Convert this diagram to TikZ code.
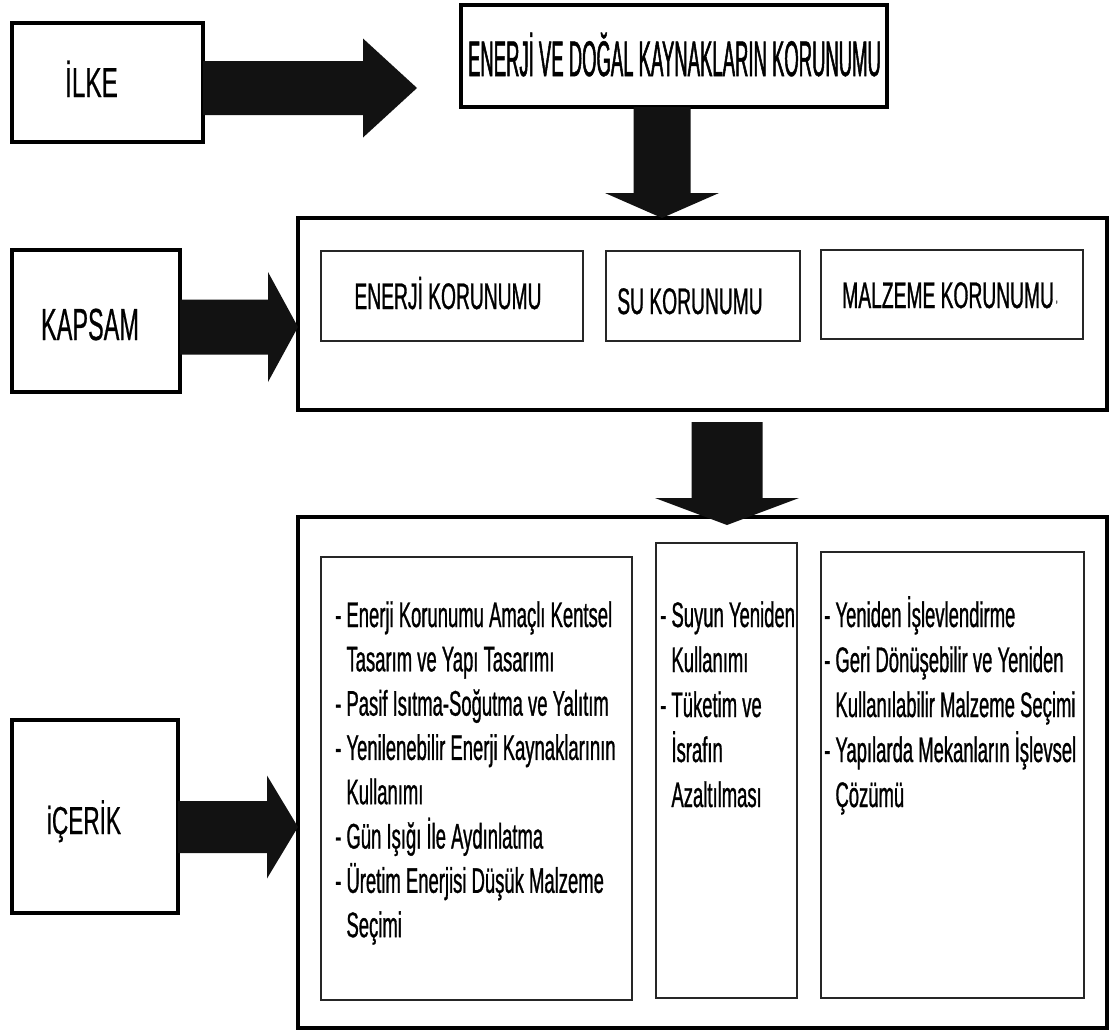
\documentclass[tikz,border=0pt]{standalone}
\usepackage{fontspec}
\setmainfont{Liberation Sans}
\newfontfamily\fhead{Liberation Sans}[FakeStretch=0.37,FakeBold=1.0]
\newfontfamily\flab{Liberation Sans}[FakeStretch=0.58,FakeBold=0.5]
\newfontfamily\fsub{Liberation Sans}[FakeStretch=0.52,FakeBold=0.8]
\newfontfamily\fbody{Liberation Sans}[FakeStretch=0.52,FakeBold=0.8]
\usetikzlibrary{calc}
\newcommand\harrow[5]{%
  \fill[arrowfill] let \p1=(#1), \p2=(#2) in
    (\x1,\y2+#3) -- (\x2-#5,\y2+#3) -- (\x2-#5,\y2+#4) -- (\x2,\y2) --
    (\x2-#5,\y2-#4) -- (\x2-#5,\y2-#3) -- (\x1,\y2-#3) -- cycle;}
\newcommand\varrow[5]{%
  \fill[arrowfill] let \p1=(#1), \p2=(#2) in
    (\x2-#3,\y1) -- (\x2-#3,\y2+#5) -- (\x2-#4,\y2+#5) -- (\x2,\y2) --
    (\x2+#4,\y2+#5) -- (\x2+#3,\y2+#5) -- (\x2+#3,\y1) -- cycle;}
\begin{document}
\begin{tikzpicture}[x=1pt,y=-1pt,
  obox/.style={draw=black, line width=4.5pt, inner sep=0pt, outer sep=0pt},
  ibox/.style={draw=black!85, line width=1.8pt, inner sep=0pt, outer sep=0pt},
  arrowfill/.style={fill=black!93},
  headtxt/.style={anchor=base, inner sep=0pt, font=\fhead\fontsize{50}{54}\selectfont},
  labtxt/.style={anchor=base, inner sep=0pt, font=\flab\fontsize{42}{46}\selectfont},
  subtxt/.style={anchor=base, inner sep=0pt, font=\fsub\fontsize{37}{40}\selectfont},
  bodytxt/.style={anchor=base west, inner sep=0pt, font=\fbody\fontsize{35.5}{38}\selectfont}]
\useasboundingbox (0,0) rectangle (1111,1034);
\fill[white] (0,0) rectangle (1111,1034);

% left boxes
\node[obox, minimum width=191, minimum height=119] (ilke) at (107.5,82.5) {};
\node[obox, minimum width=168, minimum height=142] (kapsam) at (96,321) {};
\node[obox, minimum width=166, minimum height=193] (icerik) at (95,816.5) {};
\node[labtxt] (ilketxt) at (91.5,97) {İLKE};
\node[labtxt, font=\flab\fontsize{45}{48}\selectfont, xscale=0.9] (kapsamtxt) at (90,340) {KAPSAM};
\node[labtxt, font=\flab\fontsize{39}{42}\selectfont] (iceriktxt) at (84,834) {iÇERİK};

% top box
\node[obox, minimum width=426, minimum height=102] (top) at (674,56) {};
\node[headtxt] (toptxt) at (674.5,76) {ENERJİ VE DOĞAL KAYNAKLARIN KORUNUMU};

% kapsam big box and inner boxes
\node[obox, minimum width=809, minimum height=192] (kapbig) at (702.5,314) {};
\node[ibox, minimum width=262, minimum height=90] (enbox) at (452,296) {};
\node[ibox, minimum width=194, minimum height=90] (subox) at (703,296) {};
\node[ibox, minimum width=262, minimum height=89] (mabox) at (952,294.5) {};
\node[subtxt] (entxt) at (448,309) {ENERJİ KORUNUMU};
\node[subtxt] (sutxt) at (690,314) {SU KORUNUMU};
\node[subtxt] (matxt) at (950,308) {MALZEME KORUNUMU\raisebox{6pt}{\fontsize{12}{12}\selectfont\,,}};

% icerik big box and inner boxes
\node[obox, minimum width=809, minimum height=511] (icbig) at (702.5,772.5) {};
\node[ibox, minimum width=311, minimum height=443] (lbox) at (476.5,778.5) {};
\node[ibox, minimum width=141, minimum height=455] (mbox) at (726.5,770.5) {};
\node[ibox, minimum width=263, minimum height=446] (rbox) at (952.5,775) {};

\foreach \t [count=\i from 0] in {%
  - Enerji Korunumu Amaçlı Kentsel,
  \phantom{- }Tasarım ve Yapı Tasarımı,
  - Pasif Isıtma-Soğutma ve Yalıtım,
  - Yenilenebilir Enerji Kaynaklarının,
  \phantom{- }Kullanımı,
  - Gün Işığı İle Aydınlatma,
  - Üretim Enerjisi Düşük Malzeme,
  \phantom{- }Seçimi}
  \node[bodytxt] (L\i) at (335,627+44.3*\i) {\t};

\foreach \t [count=\i from 0] in {%
  - Suyun Yeniden,
  \phantom{- }Kullanımı,
  - Tüketim ve,
  \phantom{- }İsrafın,
  \phantom{- }Azaltılması}
  \node[bodytxt] (M\i) at (660,627+45*\i) {\t};

\foreach \t [count=\i from 0] in {%
  - Yeniden İşlevlendirme,
  - Geri Dönüşebilir ve Yeniden,
  \phantom{- }Kullanılabilir Malzeme Seçimi,
  - Yapılarda Mekanların İşlevsel,
  \phantom{- }Çözümü}
  \node[bodytxt] (R\i) at (824,627+45*\i) {\t};

% arrows
\coordinate (t1) at (417,88);
\coordinate (t2) at (662,218);
\coordinate (s3) at (727,422);
\coordinate (t3) at (727,525);
\coordinate (t4) at (298,327);
\coordinate (t5) at (298,827);
\harrow{ilke.east}{t1}{27pt}{49.5pt}{54pt}
\varrow{top.south}{t2}{28.5pt}{57pt}{25pt}
\varrow{s3}{t3}{35.5pt}{72pt}{27pt}
\harrow{kapsam.east}{t4}{27.5pt}{55pt}{30pt}
\harrow{icerik.east}{t5}{26pt}{51.5pt}{31pt}
\end{tikzpicture}
\end{document}
